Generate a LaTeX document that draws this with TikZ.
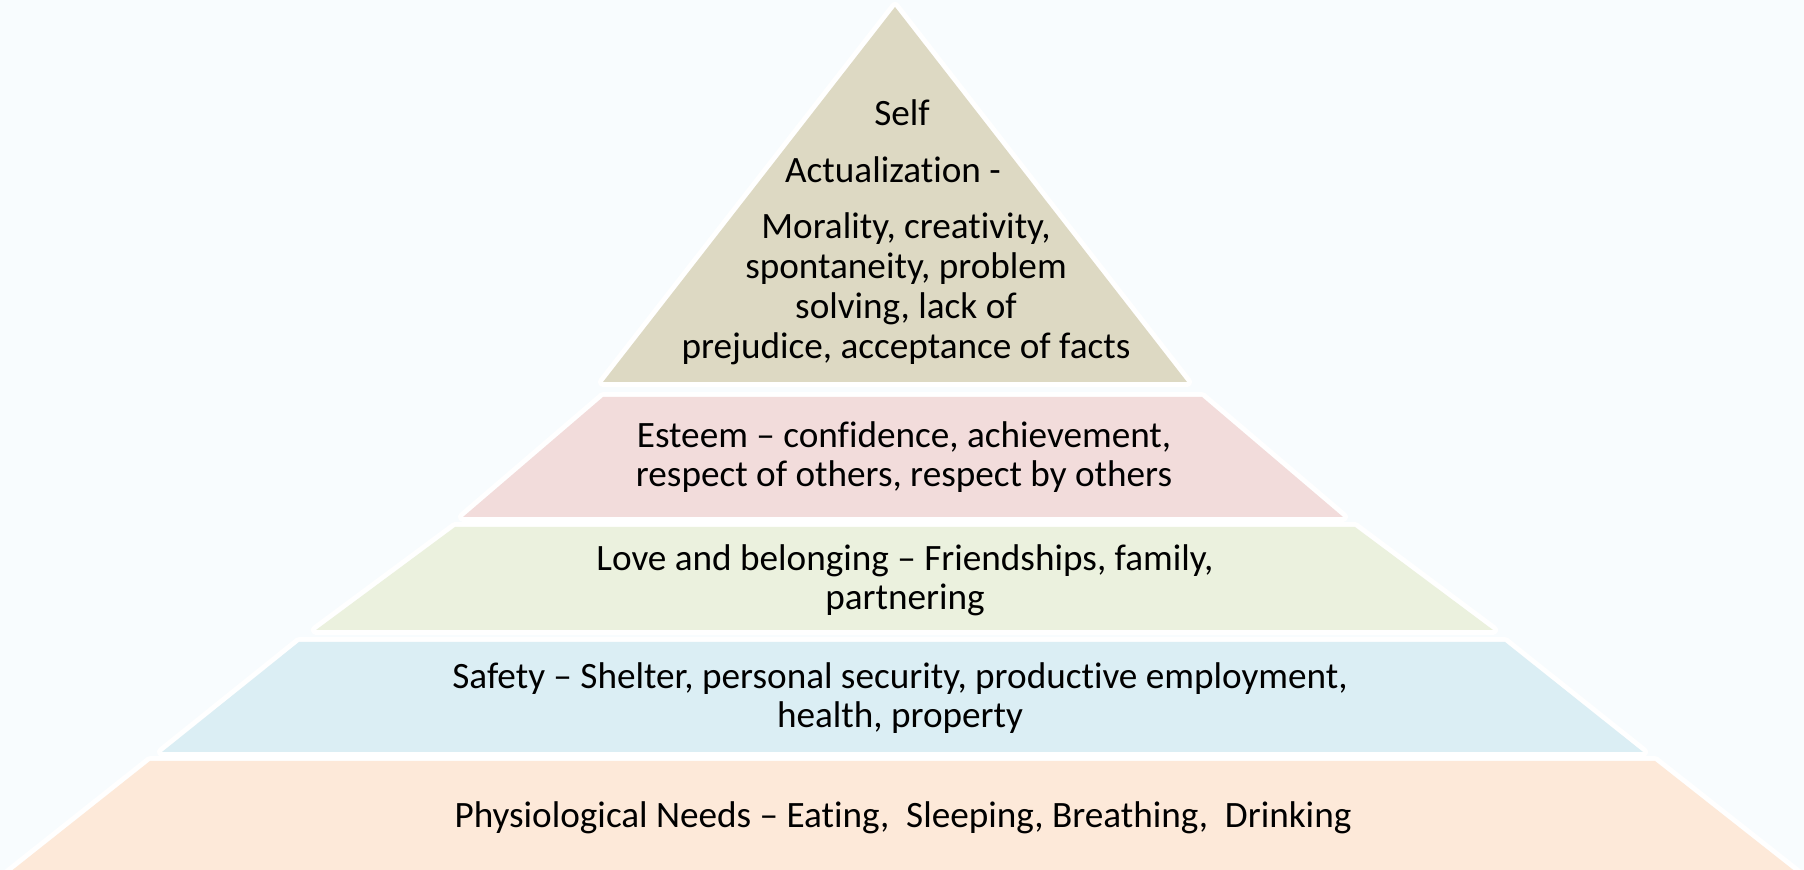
\documentclass[tikz,border=0pt]{standalone}
\usepackage{fontspec}
\setmainfont{Carlito}[Ligatures=NoCommon]
\definecolor{bgc}{HTML}{F8FCFE}
\definecolor{tanc}{HTML}{DDD9C3}
\definecolor{pinkc}{HTML}{F2DCDB}
\definecolor{greenc}{HTML}{EBF1DE}
\definecolor{bluec}{HTML}{DBEEF4}
\definecolor{orangec}{HTML}{FDE9D9}
\begin{document}
\begin{tikzpicture}[x=0.5pt,y=-0.5pt,
  edge/.style={draw=white,line width=5pt,line join=round},
  lbl/.style={align=center,inner sep=0pt,text=black,font=\fontsize{18.6}{19.6}\selectfont}]
\useasboundingbox (0,0) rectangle (1804,870);
\fill[bgc] (0,0) rectangle (1804,870);
% white outlines behind the bands
\path[edge] (895,7) -- (1187,382) -- (603,382) -- cycle;
\path[edge] (603,397) -- (1202,397) -- (1343,517) -- (463,517) -- cycle;
\path[edge] (455,527) -- (1355,527) -- (1493,630) -- (316,630) -- cycle;
\path[edge] (299,642) -- (1505,642) -- (1643,752) -- (162,752) -- cycle;
\path[edge] (150,761) -- (1655,761) -- (1806,880) -- (0,880) -- cycle;
% bands
\fill[tanc] (895,7) -- (1187,382) -- (603,382) -- cycle;
\fill[pinkc] (603,397) -- (1202,397) -- (1343,517) -- (463,517) -- cycle;
\fill[greenc] (455,527) -- (1355,527) -- (1493,630) -- (316,630) -- cycle;
\fill[bluec] (299,642) -- (1505,642) -- (1643,752) -- (162,752) -- cycle;
\fill[orangec] (150,761) -- (1655,761) -- (1806,880) -- (0,880) -- cycle;
% labels
\node[lbl] (self) at (902,113) {Self};
\node[lbl] (act) at (893,170) {Actualization -};
\node[lbl,font=\fontsize{18.6}{20}\selectfont] (moral) at (906,289) {Morality, creativity,\\spontaneity, problem\\solving, lack of\\prejudice, acceptance of facts};
\node[lbl] (esteem) at (904,457) {Esteem -- confidence, achievement,\\respect of others, respect by others};
\node[lbl] (love) at (905,580) {Love and belonging -- Friendships, family,\\partnering};
\node[lbl] (safety) at (900,698) {Safety -- Shelter, personal security, productive employment,\\health, property};
\node[lbl] (phys) at (903,818) {Physiological Needs -- Eating,\ \ Sleeping, Breathing,\ \ Drinking};
\end{tikzpicture}
\end{document}
